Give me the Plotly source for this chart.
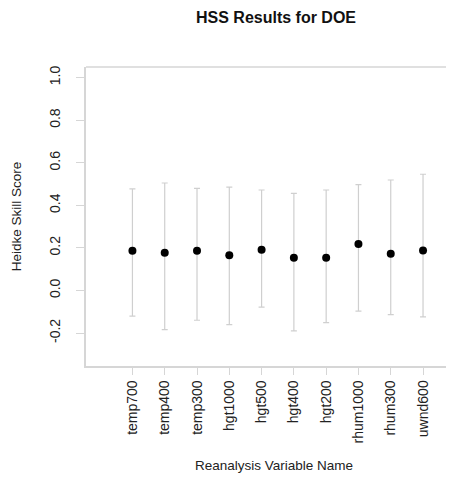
import plotly.graph_objects as go

variables = ["temp700", "temp400", "temp300", "hgt1000", "hgt500",
             "hgt400", "hgt200", "rhum1000", "rhum300", "uwnd600"]
hss = [0.187, 0.177, 0.187, 0.165, 0.191, 0.154, 0.154, 0.218, 0.173, 0.188]
upper = [0.477, 0.505, 0.480, 0.486, 0.472, 0.456, 0.472, 0.497, 0.519, 0.546]
lower = [-0.121, -0.184, -0.140, -0.161, -0.078, -0.190, -0.151, -0.097, -0.114, -0.124]

err_plus = [u - v for u, v in zip(upper, hss)]
err_minus = [v - l for v, l in zip(hss, lower)]

FONT = "Liberation Sans, Arial, Helvetica, sans-serif"
AXIS_COLOR = "#d6d6d6"

fig = go.Figure()
fig.add_trace(go.Scatter(
    x=variables, y=hss, mode="markers",
    marker=dict(color="black", size=8),
    error_y=dict(type="data", symmetric=False, array=err_plus, arrayminus=err_minus,
                 color="#cfcfcf", thickness=1.2, width=3),
    showlegend=False,
))

fig.update_layout(
    width=454, height=477,
    margin=dict(l=77.5, r=0, t=59, b=119),
    paper_bgcolor="white", plot_bgcolor="white",
    font=dict(family=FONT, color="#222222", size=14),
    title=dict(text="<b>HSS Results for DOE</b>", x=268 / 454, xref="container",
               xanchor="center", y=1 - 9 / 477, yref="container", yanchor="middle",
               font=dict(family=FONT, size=16, color="#111111")),
    xaxis=dict(
        type="category", categoryorder="array", categoryarray=variables,
        range=[-1.438, 10.207],
        showline=True, linecolor=AXIS_COLOR, linewidth=1.5,
        showgrid=False, zeroline=False,
        ticks="outside", ticklen=7, tickcolor=AXIS_COLOR, tickwidth=1,
        tickangle=-90, tickfont=dict(size=14),
        title=dict(text="Reanalysis Variable Name", standoff=18, font=dict(size=13.5)),
    ),
    yaxis=dict(
        range=[-0.355, 1.05],
        tickvals=[-0.2, 0.0, 0.2, 0.4, 0.6, 0.8, 1.0],
        ticktext=["-0.2", "0.0", "0.2", "0.4", "0.6", "0.8", "1.0"],
        showline=True, linecolor=AXIS_COLOR, linewidth=1.5,
        showgrid=False, zeroline=False,
        ticks="outside", ticklen=8, tickcolor=AXIS_COLOR, tickwidth=1,
        tickangle=-90, tickfont=dict(size=14), ticklabelstandoff=11,
        title=dict(text="Heidke Skill Score", standoff=22, font=dict(size=13.5)),
    ),
    shapes=[dict(type="line", xref="paper", yref="paper", x0=0, x1=1, y0=1, y1=1,
                 line=dict(color=AXIS_COLOR, width=1.5))],
)

fig.write_html("out.html")
